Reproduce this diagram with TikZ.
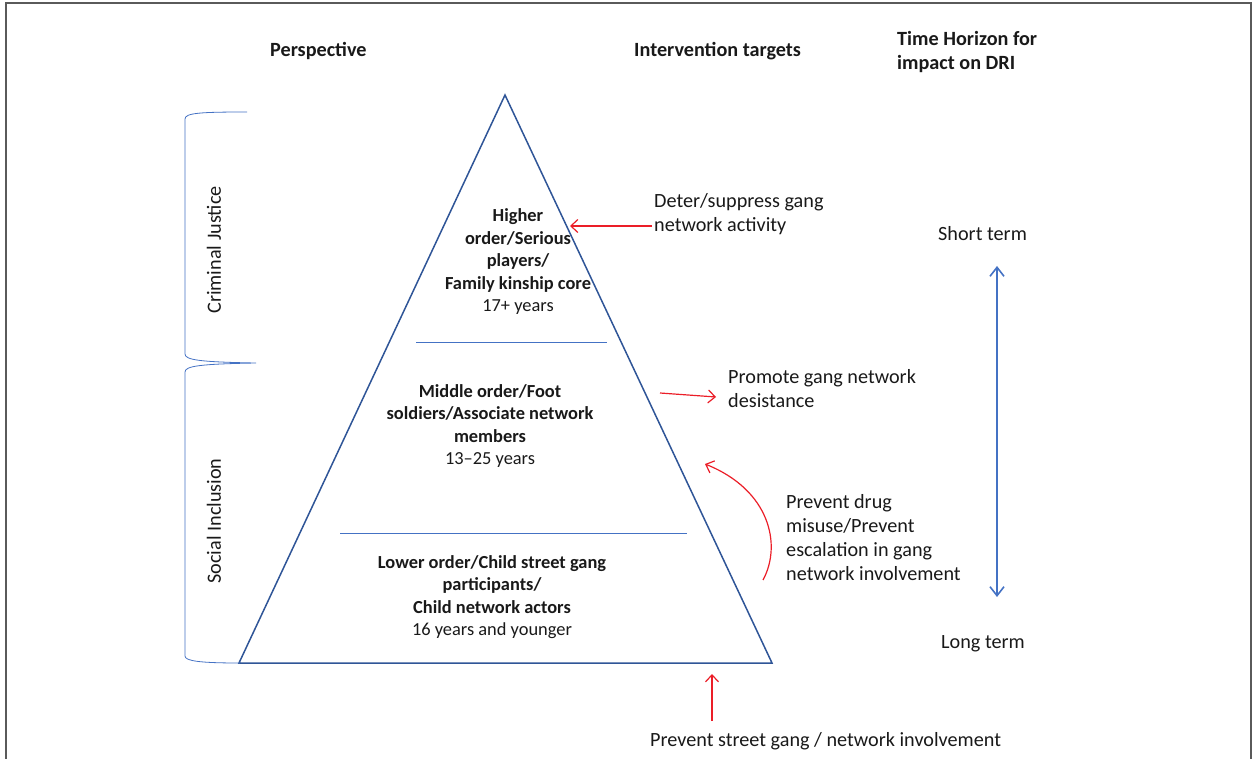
\documentclass[tikz,border=0pt]{standalone}
\usepackage{fontspec}
\setmainfont{Carlito}
\usetikzlibrary{arrows.meta}
\definecolor{tri}{RGB}{47,85,151}
\definecolor{lblue}{RGB}{68,114,196}
\definecolor{ared}{RGB}{235,30,40}
\definecolor{frame}{RGB}{90,90,90}
\tikzset{
  txt/.style={inner sep=0pt, font=\fontsize{20.2}{24}\selectfont, text=black!90},
  bold/.style={txt, font=\fontsize{20.2}{24}\selectfont\bfseries},
  tier/.style={txt, align=center, font=\fontsize{18.4}{22.5}\selectfont\bfseries},
  redarrow/.style={draw=ared, line width=1.2pt, -{Straight Barb[length=7pt,width=13pt,line width=1.2pt]}},
  bluearrow/.style={draw=lblue, line width=1.6pt, {Straight Barb[length=9pt,width=14pt,line width=1.6pt]}-{Straight Barb[length=9pt,width=14pt,line width=1.6pt]}},
  divider/.style={draw=lblue, line width=0.8pt},
  bracepath/.style={draw=lblue, line width=0.8pt},
}
\begin{document}
\begin{tikzpicture}[x=1pt,y=-1pt]
\useasboundingbox (0,0) rectangle (1252,759);
% frame
\draw[frame, line width=1.4pt] (6,770) -- (6,3) -- (1251,3) -- (1251,770);
% triangle
\coordinate (apex) at (505,95);
\coordinate (bl) at (239,663);
\coordinate (br) at (772,663);
\draw[tri, line width=1.5pt, line join=miter] (apex) -- (bl) -- (br) -- cycle;
% dividers
\coordinate (d1a) at (416,342); \coordinate (d1b) at (607,342);
\coordinate (d2a) at (340,533); \coordinate (d2b) at (687,533);
\draw[divider] (d1a) -- (d1b);
\draw[divider] (d2a) -- (d2b);
% braces
\coordinate (b1) at (247,112);
\coordinate (bm) at (256,363);
\coordinate (b2) at (240,663);
\draw[bracepath] (b1) .. controls (200,112) and (185,113) .. (185,119) -- (185,354) .. controls (185,360) and (200,362) .. (bm)
  .. controls (200,364) and (185,366) .. (185,372) -- (185,656) .. controls (185,661) and (200,663) .. (b2);
\node[txt, rotate=90] (cj) at (214,250) {Criminal Justice};
\node[txt, rotate=90] (si) at (214,521) {Social Inclusion};
% headers
\node[bold, anchor=west] (persp) at (270,51) {Perspective};
\node[bold, anchor=west] (interv) at (634,51) {Intervention targets};
\node[bold, anchor=west, align=left] (timeh) at (897,52) {Time Horizon for\\impact on DRI};
% tiers
\node[tier] (higher) at (518,262) {Higher\\order/Serious\\players/\\Family kinship core\\{\mdseries 17+ years}};
\node[tier] (middle) at (490,426) {Middle order/Foot\\soldiers/Associate network\\members\\{\mdseries 13–25 years}};
\node[tier] (lower) at (492,597) {Lower order/Child street gang\\participants/\\Child network actors\\{\mdseries 16 years and younger}};
% interventions
\node[txt, anchor=west, align=left] (deter) at (654,214) {Deter/suppress gang\\network activity};
\node[txt, anchor=west, align=left] (promote) at (728,389) {Promote gang network\\desistance};
\node[txt, anchor=west, align=left] (prevent) at (786,538) {Prevent drug\\misuse/Prevent\\escalation in gang\\network involvement};
\node[txt, anchor=west] (street) at (650,741) {Prevent street gang / network involvement};
% arrows
\coordinate (a1s) at (652,226); \coordinate (a1e) at (570,226);
\draw[redarrow] (a1s) -- (a1e);
\coordinate (a2s) at (660,393); \coordinate (a2e) at (716,397);
\draw[redarrow] (a2s) -- (a2e);
\coordinate (a3s) at (763,580); \coordinate (a3e) at (705,464);
\draw[redarrow] (a3s) .. controls (782,545) and (770,490) .. (a3e);
\coordinate (a4s) at (712,721); \coordinate (a4e) at (712,674);
\draw[redarrow] (a4s) -- (a4e);
% time horizon
\node[txt, anchor=west] (short) at (938,234) {Short term};
\node[txt, anchor=west] (long) at (941,644) {Long term};
\coordinate (t1) at (997,266); \coordinate (t2) at (997,597);
\draw[bluearrow] (t1) -- (t2);
\end{tikzpicture}
\end{document}
